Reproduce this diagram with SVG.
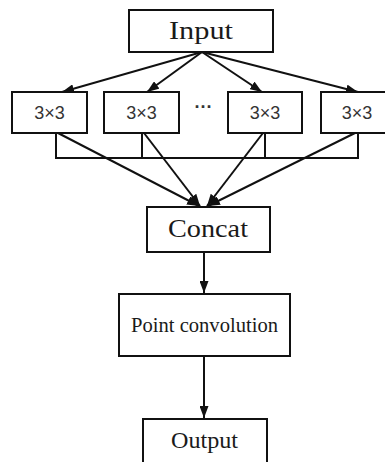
<svg xmlns="http://www.w3.org/2000/svg" width="385" height="462" viewBox="0 0 385 462">
  <defs>
    <style>
      .box { fill: #ffffff; stroke: #111111; stroke-width: 2; }
      .serif { font-family: "Liberation Serif", "Times New Roman", serif; fill: #1a1a1a; text-anchor: middle; }
      .sans { font-family: "Liberation Sans", Arial, sans-serif; font-size: 18px; fill: #333333; text-anchor: middle; }
      .edge { fill: none; stroke: #111111; stroke-width: 2; }
    </style>
    <marker id="arrow" viewBox="0 0 12 9" refX="12" refY="4.5" markerWidth="12" markerHeight="9" markerUnits="userSpaceOnUse" orient="auto">
      <path d="M0,0 L12,4.5 L0,9 Z" fill="#111111"/>
    </marker>
  </defs>
  <rect width="385" height="462" fill="#ffffff"/>

  <g id="connectors">
    <!-- fan-out from Input -->
    <line class="edge" x1="202" y1="52" x2="62" y2="92" marker-end="url(#arrow)"/>
    <line class="edge" x1="202" y1="52" x2="147" y2="92" marker-end="url(#arrow)"/>
    <line class="edge" x1="202" y1="52" x2="262" y2="92" marker-end="url(#arrow)"/>
    <line class="edge" x1="202" y1="52" x2="358" y2="92" marker-end="url(#arrow)"/>
    <!-- bracket under the 3x3 branches -->
    <polyline class="edge" points="56,133 56,158 358,158 358,133"/>
    <line class="edge" x1="142" y1="133" x2="142" y2="158"/>
    <line class="edge" x1="265" y1="133" x2="265" y2="158"/>
    <!-- fan-in to Concat -->
    <line class="edge" x1="58" y1="133" x2="199" y2="206" marker-end="url(#arrow)"/>
    <line class="edge" x1="144" y1="133" x2="200" y2="206" marker-end="url(#arrow)"/>
    <line class="edge" x1="263" y1="133" x2="207" y2="206" marker-end="url(#arrow)"/>
    <line class="edge" x1="355" y1="133" x2="208" y2="206" marker-end="url(#arrow)"/>
    <!-- vertical chain -->
    <line class="edge" x1="204" y1="252" x2="204" y2="293" marker-end="url(#arrow)"/>
    <line class="edge" x1="204" y1="356" x2="204" y2="418" marker-end="url(#arrow)"/>
  </g>

  <g id="input">
    <rect class="box" x="129" y="10" width="144" height="42"/>
    <text class="serif" x="201" y="39" font-size="25" textLength="64" lengthAdjust="spacingAndGlyphs">Input</text>
  </g>

  <g id="branch-1">
    <rect class="box" x="12" y="92" width="75" height="41"/>
    <text class="sans" x="49.5" y="119">3×3</text>
  </g>
  <g id="branch-2">
    <rect class="box" x="104" y="92" width="75" height="41"/>
    <text class="sans" x="141.5" y="119">3×3</text>
  </g>
  <g id="ellipsis">
    <text class="sans" x="203.5" y="113" font-size="22" font-weight="bold" fill="#222222">···</text>
  </g>
  <g id="branch-3">
    <rect class="box" x="228" y="92" width="74" height="41"/>
    <text class="sans" x="265" y="119">3×3</text>
  </g>
  <g id="branch-4">
    <rect class="box" x="321" y="92" width="75" height="41"/>
    <text class="sans" x="357" y="119">3×3</text>
  </g>

  <g id="concat">
    <rect class="box" x="147" y="207" width="123" height="45"/>
    <text class="serif" x="208" y="237" font-size="25" textLength="80" lengthAdjust="spacingAndGlyphs">Concat</text>
  </g>

  <g id="point-convolution">
    <rect class="box" x="119" y="294" width="171" height="62"/>
    <text class="serif" x="204.5" y="332" font-size="20" textLength="147" lengthAdjust="spacingAndGlyphs">Point convolution</text>
  </g>

  <g id="output">
    <rect class="box" x="143" y="419" width="124" height="60"/>
    <text class="serif" x="204.5" y="448" font-size="23" textLength="67" lengthAdjust="spacingAndGlyphs">Output</text>
  </g>
</svg>
